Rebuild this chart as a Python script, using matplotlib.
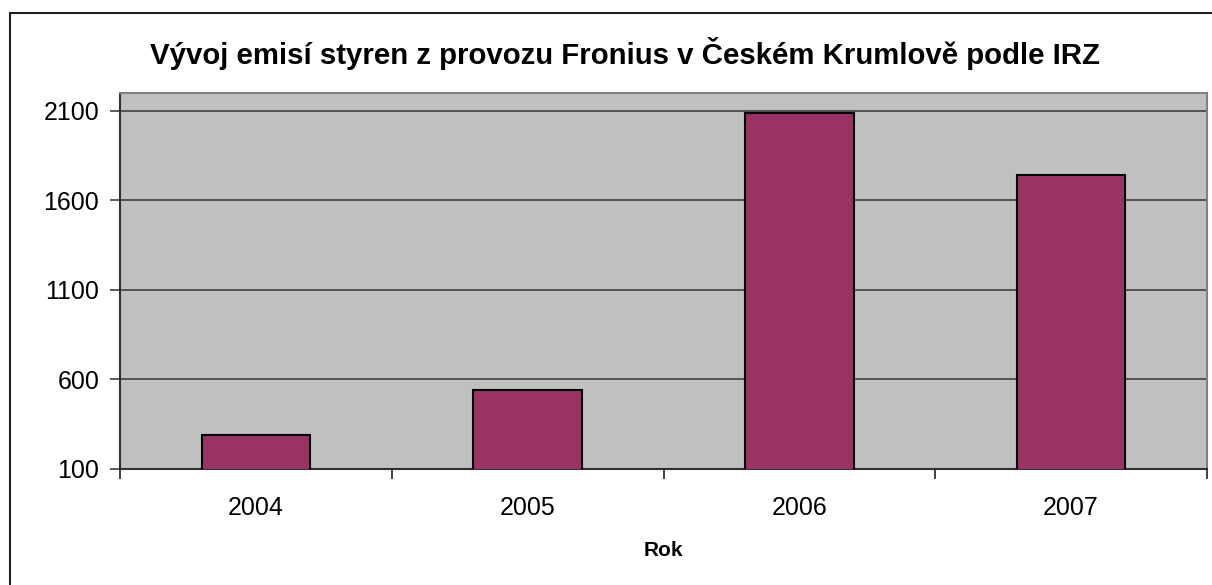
import matplotlib.pyplot as plt
from matplotlib.patches import Rectangle
import numpy as np

# Data
years = ["2004", "2005", "2006", "2007"]
emise = [290, 540, 2090, 1740]
yticks = [100, 600, 1100, 1600, 2100]

plt.rcParams['font.family'] = ['Liberation Sans', 'DejaVu Sans']

fig = plt.figure(figsize=(12.12, 5.85), dpi=100)
ax = fig.add_axes([120 / 1212, 1 - 468.7 / 585, (1207 - 120) / 1212, (468.7 - 93) / 585])

# outer chart border (cut off at right and bottom)
fig.patches.append(Rectangle((10 / 1212, -0.1), 1.2, (585 - 13) / 585 + 0.1,
                             transform=fig.transFigure, fill=False,
                             edgecolor='#202020', linewidth=1.5))

ax.set_facecolor('#C0C0C0')
x = np.arange(len(years))
ax.bar(x, emise, width=0.4, color='#993366', edgecolor='black', linewidth=1.5, zorder=3)

ax.set_xlim(-0.5, 3.5)
ax.set_ylim(100, 2200)
ax.set_yticks(yticks)
ax.set_yticklabels([str(v) for v in yticks], fontsize=18)
ax.yaxis.grid(True, color='#404040', linewidth=1.2)
ax.set_axisbelow(True)

ax.set_xticks(x)
ax.set_xticklabels(years, fontsize=18)
ax.set_xticks(np.arange(-0.5, 4, 1), minor=True)
ax.tick_params(axis='x', which='major', length=0, pad=20)
ax.tick_params(axis='x', which='minor', length=7, width=1.2, color='#202020')
ax.tick_params(axis='y', length=7, width=1.2, color='#404040', pad=8)

for s in ['left', 'bottom']:
    ax.spines[s].set_color('#303030')
    ax.spines[s].set_linewidth(1.5)
for s in ['top', 'right']:
    ax.spines[s].set_color('#808080')
    ax.spines[s].set_linewidth(1.5)

fig.text((120 + 1207) / 2 / 1212, 1 - 550 / 585, "Rok", fontsize=15, fontweight='bold',
         ha='center', va='center')
fig.text(0.516, 1 - 54 / 585, "Vývoj emisí styren z provozu Fronius v Českém Krumlově podle IRZ",
         fontsize=21.2, fontweight='bold', ha='center', va='center')

fig.savefig("out.png", dpi=100)
